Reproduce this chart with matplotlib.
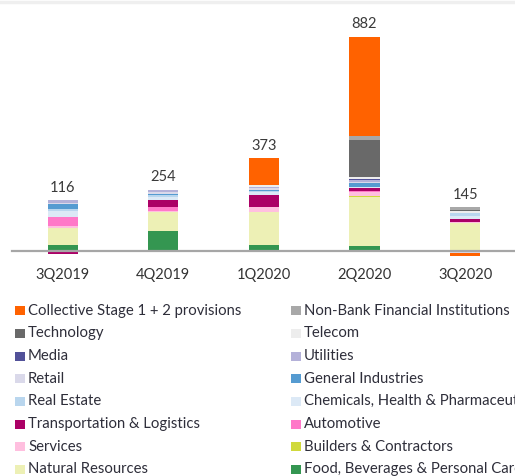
import matplotlib
matplotlib.use("Agg")
import matplotlib.pyplot as plt
from matplotlib.patches import Rectangle
from matplotlib.lines import Line2D
import numpy as np

OUT_FILE = "out.png"

quarters = ["3Q2019", "4Q2019", "1Q2020", "2Q2020", "3Q2020"]
totals = [116, 254, 373, 882, 145]

# sectors in stacking order, bottom to top
sectors = [
    "Food, Beverages & Personal Care",
    "Natural Resources",
    "Builders & Contractors",
    "Services",
    "Automotive",
    "Transportation & Logistics",
    "Chemicals, Health & Pharmaceuticals",
    "Real Estate",
    "General Industries",
    "Retail",
    "Utilities",
    "Media",
    "Telecom",
    "Technology",
    "Non-Bank Financial Institutions",
    "Collective Stage 1 + 2 provisions",
]
colors = [
    "#349651", "#EDF0B5", "#D0D93C", "#FFBFDF", "#FF78C8", "#AB0066",
    "#DCE9F6", "#B9D6EE", "#559BD1", "#DAD9EA", "#B4B1D9", "#525199",
    "#EDEDED", "#696969", "#A8A8A8", "#FF6200",
]

# risk costs per sector and quarter (EUR mln)
food = [26, 83, 25, 22, 0]
natural = [69, 78, 134, 199, 114]
builders = [0, 0, 0, 4, 0]
services = [8, 5, 21, 18, 7]
automotive = [38, 15, 0, 3, 0]
transport = [-14, 30, 52, 12, 10]
chemicals = [23, 12, 10, 4, 15]
real_estate = [7, 8, 3, 3, 10]
general_ind = [21, 4, 8, 14, 0]
retail = [4, 6, 6, 6, -10]
utilities = [12, 12, 6, 8, 0]
media = [0, 0, 0, 2, 0]
telecom = [0, 0, 5, 8, 7]
technology = [0, 0, 0, 155, 7]
non_bank = [0, 0, 0, 14, 11]
collective = [0, 0, 112, 410, -11]

values = np.array([food, natural, builders, services, automotive, transport,
                   chemicals, real_estate, general_ind, retail, utilities,
                   media, telecom, technology, non_bank, collective], dtype=float)

W, H = 515, 476
fig = plt.figure(figsize=(W / 100, H / 100), dpi=100)
plt.rcParams["font.family"] = ["Lato", "DejaVu Sans"]

ax = fig.add_axes([12.4 / W, 1 - 260.7 / H, 503 / W, 228.4 / H])
x = np.arange(len(quarters))
pos_bottom = np.zeros(len(quarters))
neg_bottom = np.zeros(len(quarters))
for vals, c in zip(values, colors):
    bottom = np.where(vals >= 0, pos_bottom, neg_bottom)
    ax.bar(x, vals, width=0.3, bottom=bottom, color=c, linewidth=0)
    pos_bottom += np.clip(vals, 0, None)
    neg_bottom += np.clip(vals, None, 0)

for xi, top, t in zip(x, pos_bottom, totals):
    ax.annotate(str(t), (xi, top), textcoords="offset points", xytext=(0, 6),
                ha="center", va="baseline", fontsize=10.5, color="#3a3a3a")

ax.axhline(0, color="#A6A6A6", lw=1.6, clip_on=False)
ax.set_xlim(-0.5, 4.5)
ax.set_ylim(-40, 900)
ax.set_xticks(x)
ax.set_xticklabels(quarters, fontsize=10.5, color="#333333")
ax.tick_params(axis="x", length=0, pad=5)
ax.set_yticks([])
for s in ax.spines.values():
    s.set_visible(False)

# legend drawn in two columns, row-wise from the top of the stack
legend_order = list(range(len(sectors)))[::-1]
for i, k in enumerate(legend_order):
    col, row = i % 2, i // 2
    x0 = 15 if col == 0 else 291
    yc = 310.7 + row * 22.67
    fig.patches.append(Rectangle((x0 / W, 1 - (yc + 4.5) / H), 10 / W, 9 / H,
                                 transform=fig.transFigure, color=colors[k], lw=0))
    fig.text((x0 + 13) / W, 1 - yc / H, sectors[k], fontsize=10.7,
             color="#2e2e3a", va="center", ha="left")

fig.lines.append(Line2D([0, 1], [1 - 1.5 / H, 1 - 1.5 / H], transform=fig.transFigure,
                        color="#EFEFEF", lw=2.5))

fig.savefig(OUT_FILE, dpi=100)
